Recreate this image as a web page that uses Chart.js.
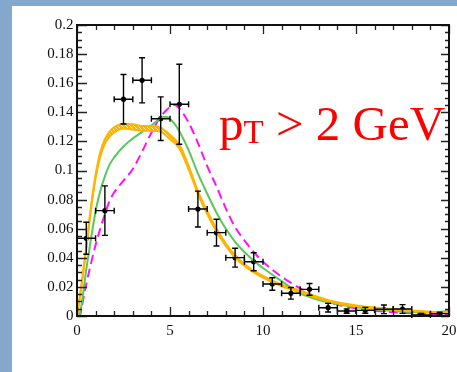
<!DOCTYPE html>
<html>
<head>
<meta charset="utf-8">
<script src="https://cdn.jsdelivr.net/npm/chart.js@4.4.1/dist/chart.umd.min.js"></script>
<style>
  html, body { margin: 0; padding: 0; }
  body { width: 457px; height: 372px; background: #86a7cd; position: relative; overflow: hidden; }
  #panel { position: absolute; left: 12px; top: 6px; right: 0; bottom: 0; background: #ffffff; }
  #c { position: absolute; left: 0; top: 0; }
</style>
</head>
<body>
<div id="panel"></div>
<canvas id="c" width="457" height="372"></canvas>
<script>
// Measured spectrum: bin centres, values, half bin widths and errors
const dataX    = [0.5, 1.5, 2.5, 3.5, 4.5, 5.5, 6.5, 7.5, 8.5, 9.5, 10.5, 11.5, 12.5, 13.5, 14.5, 15.5, 16.5, 17.5, 18.5, 19.5];
const dataY    = [0.0534, 0.0724, 0.149, 0.162, 0.1356, 0.1455, 0.0735, 0.0573, 0.0401, 0.0373, 0.022, 0.0156, 0.0183, 0.0057, 0.0034, 0.0039, 0.0046, 0.0048, 0.0007, 0.0016];
const dataXErr = [0.5, 0.5, 0.5, 0.5, 0.5, 0.5, 0.5, 0.5, 0.5, 0.5, 0.5, 0.5, 0.5, 0.5, 0.5, 0.5, 0.5, 0.5, 0.5, 0.5];
const dataYErr = [0.011, 0.017, 0.017, 0.0155, 0.015, 0.0275, 0.0123, 0.0092, 0.0065, 0.0062, 0.0043, 0.004, 0.004, 0.003, 0.0015, 0.002, 0.003, 0.003, 0.001, 0.001];

// Model band (upper and lower edge)
const bandX    = [0, 0.25, 0.5, 0.75, 1, 1.25, 1.5, 1.75, 2, 2.5, 3, 3.5, 4, 4.5, 5, 5.5, 6, 6.5, 7, 7.5, 8, 8.5, 9, 9.5, 10, 11, 12, 13, 14, 15, 16, 17, 18, 19, 20];
const bandHigh = [0, 0.0228, 0.0478, 0.0752, 0.0972, 0.1125, 0.1215, 0.1268, 0.1298, 0.1322, 0.1318, 0.1306, 0.1306, 0.1295, 0.1245, 0.1178, 0.1032, 0.0860, 0.0720, 0.0600, 0.0498, 0.0418, 0.0357, 0.0311, 0.0276, 0.0216, 0.0175, 0.0130, 0.0094, 0.0073, 0.0058, 0.0047, 0.0037, 0.0030, 0.0024];
const bandLow  = [0, 0.0212, 0.0462, 0.0728, 0.0948, 0.1095, 0.1185, 0.1232, 0.1262, 0.1288, 0.1282, 0.1274, 0.1274, 0.1265, 0.1215, 0.1152, 0.1008, 0.0840, 0.0700, 0.0580, 0.0482, 0.0402, 0.0343, 0.0299, 0.0264, 0.0204, 0.0165, 0.0120, 0.0086, 0.0067, 0.0052, 0.0043, 0.0033, 0.0026, 0.0020];

// Second model (green, solid)
const greenX = [0, 0.12, 0.5, 0.75, 1, 1.25, 1.5, 1.75, 2, 2.5, 3, 3.5, 4, 4.5, 4.75, 5, 5.5, 6, 6.5, 7, 7.5, 8, 8.5, 9, 9.5, 10, 11, 12, 13, 14, 15, 16, 17, 18, 19, 20];
const greenY = [0, 0.0007, 0.032, 0.053, 0.072, 0.086, 0.096, 0.104, 0.109, 0.1165, 0.122, 0.1265, 0.131, 0.136, 0.137, 0.1355, 0.127, 0.114, 0.098, 0.084, 0.071, 0.060, 0.051, 0.044, 0.038, 0.033, 0.024, 0.0155, 0.011, 0.008, 0.006, 0.0045, 0.0035, 0.0028, 0.0024, 0.0035];

// Third model (magenta, dashed)
const magX = [0, 0.15, 0.25, 0.5, 0.75, 1, 1.25, 1.5, 1.75, 2, 2.5, 3, 3.5, 4, 4.5, 5, 5.25, 5.5, 6, 6.5, 7, 7.5, 8, 8.5, 9, 9.5, 10, 11, 12, 13, 14, 15, 16, 17, 18, 19, 20];
const magY = [0, 0, 0.006, 0.022, 0.036, 0.049, 0.060, 0.070, 0.079, 0.085, 0.093, 0.101, 0.113, 0.126, 0.137, 0.1437, 0.145, 0.1427, 0.133, 0.119, 0.103, 0.089, 0.074, 0.061, 0.052, 0.044, 0.0373, 0.027, 0.019, 0.012, 0.0078, 0.0052, 0.0036, 0.0026, 0.0019, 0.0014, 0.0011];

const xTicks = { min: 0, max: 20, step: 5, minorStep: 1 };
const yTicks = { min: 0, max: 0.2, step: 0.02, minorStep: 0.005 };

const pts = (xs, ys) => xs.map((x, i) => ({ x: x, y: ys[i] }));

const SERIF = '"Liberation Serif", "DejaVu Serif", serif';
const ORANGE = '#ffb400';
const GREEN = '#58c858';
const MAGENTA = '#ff10ff';

// cross-hatched fill for the band
function hatchPattern() {
  const t = document.createElement('canvas');
  t.width = 4; t.height = 4;
  const g = t.getContext('2d');
  g.fillStyle = ORANGE;
  g.fillRect(0, 0, 4, 4);
  g.fillStyle = '#ffe9b0';
  g.fillRect(0, 0, 1, 1);
  g.fillRect(2, 2, 1, 1);
  g.fillRect(1, 1, 1, 1);
  g.fillRect(3, 3, 1, 1);
  return g.createPattern(t, 'repeat');
}

const ctx = document.getElementById('c').getContext('2d');

const framePlugin = {
  id: 'frameTicks',
  afterDatasetsDraw(chart) {
    const c = chart.ctx;
    const xs = chart.scales.x, ys = chart.scales.y;
    const a = chart.chartArea;

    // error bars on the measured points
    c.save();
    c.strokeStyle = '#000';
    c.lineWidth = 1.4;
    const cap = 3;
    for (let i = 0; i < dataX.length; i++) {
      const px = xs.getPixelForValue(dataX[i]);
      const py = ys.getPixelForValue(dataY[i]);
      const x0 = xs.getPixelForValue(dataX[i] - dataXErr[i]);
      const x1 = xs.getPixelForValue(dataX[i] + dataXErr[i]);
      const y0 = Math.min(ys.getPixelForValue(Math.max(dataY[i] - dataYErr[i], 0)), a.bottom);
      const y1 = ys.getPixelForValue(dataY[i] + dataYErr[i]);
      c.beginPath();
      c.moveTo(x0, py); c.lineTo(x1, py);
      c.moveTo(x0, py - cap); c.lineTo(x0, py + cap);
      c.moveTo(x1, py - cap); c.lineTo(x1, py + cap);
      c.moveTo(px, y0); c.lineTo(px, y1);
      c.moveTo(px - cap, y1); c.lineTo(px + cap, y1);
      if (dataY[i] - dataYErr[i] > 0) { c.moveTo(px - cap, y0); c.lineTo(px + cap, y0); }
      c.stroke();
    }
    c.restore();

    // inward ticks on all four sides
    c.save();
    c.strokeStyle = '#222';
    c.lineWidth = 1.3;
    c.beginPath();
    const nx = Math.round((xTicks.max - xTicks.min) / xTicks.minorStep);
    for (let i = 0; i <= nx; i++) {
      const v = xTicks.min + i * xTicks.minorStep;
      const major = Math.abs(v / xTicks.step - Math.round(v / xTicks.step)) < 1e-6;
      const p = Math.round(xs.getPixelForValue(v)) + 0.5;
      const len = major ? 9 : 5;
      c.moveTo(p, a.bottom); c.lineTo(p, a.bottom - len);
      c.moveTo(p, a.top); c.lineTo(p, a.top + len);
    }
    const ny = Math.round((yTicks.max - yTicks.min) / yTicks.minorStep);
    for (let i = 0; i <= ny; i++) {
      const v = yTicks.min + i * yTicks.minorStep;
      const major = i % Math.round(yTicks.step / yTicks.minorStep) === 0;
      const p = Math.round(ys.getPixelForValue(v)) + 0.5;
      c.moveTo(a.left, p); c.lineTo(a.left + (major ? 10 : 5), p);
      c.moveTo(a.right, p); c.lineTo(a.right - (major ? 8 : 4), p);
    }
    c.stroke();

    // frame
    c.strokeStyle = '#111';
    c.lineWidth = 2;
    c.strokeRect(a.left, a.top, a.right - a.left, a.bottom - a.top);
    c.restore();
  },
  afterDraw(chart) {
    // cut label "pT > 2 GeV"
    const c = chart.ctx;
    c.save();
    c.fillStyle = '#ff0000';
    c.textBaseline = 'alphabetic';
    c.textAlign = 'left';
    let x = 219;
    c.font = '49px ' + SERIF;
    c.fillText('p', x, 140);
    x += c.measureText('p').width;
    c.font = '33px ' + SERIF;
    c.fillText('T', x, 143);
    x += c.measureText('T').width;
    c.font = '49px ' + SERIF;
    c.fillText(' > 2 GeV', x, 140);
    c.restore();
  }
};

new Chart(ctx, {
  type: 'line',
  data: {
    datasets: [
      {
        data: pts(bandX, bandHigh),
        borderColor: ORANGE, borderWidth: 2, pointRadius: 0,
        cubicInterpolationMode: 'monotone', fill: false
      },
      {
        data: pts(bandX, bandLow),
        borderColor: ORANGE, borderWidth: 2, pointRadius: 0,
        cubicInterpolationMode: 'monotone', fill: '-1',
        backgroundColor: hatchPattern()
      },
      {
        data: pts(greenX, greenY),
        borderColor: GREEN, borderWidth: 2, pointRadius: 0,
        cubicInterpolationMode: 'monotone', fill: false
      },
      {
        data: pts(magX, magY),
        borderColor: MAGENTA, borderWidth: 2, borderDash: [9, 5], pointRadius: 0,
        cubicInterpolationMode: 'monotone', fill: false
      },
      {
        type: 'scatter',
        data: pts(dataX, dataY),
        showLine: false,
        pointRadius: 2.6, pointBackgroundColor: '#000', pointBorderColor: '#000', pointBorderWidth: 0
      }
    ]
  },
  options: {
    responsive: false,
    animation: false,
    layout: { padding: { top: 25, right: 8, left: 0, bottom: 0 } },
    plugins: { legend: { display: false }, tooltip: { enabled: false } },
    scales: {
      x: {
        type: 'linear', min: xTicks.min, max: xTicks.max,
        grid: { display: false, drawTicks: false },
        border: { display: false },
        ticks: { stepSize: xTicks.step, color: '#111', padding: 6, font: { family: SERIF, size: 15 }, maxRotation: 0 },
        afterFit(s) { s.height = 56; s.paddingLeft = 0; s.paddingRight = 0; }
      },
      y: {
        type: 'linear', min: yTicks.min, max: yTicks.max,
        grid: { display: false, drawTicks: false },
        border: { display: false },
        ticks: {
          stepSize: yTicks.step, color: '#111', padding: 3.5, font: { family: SERIF, size: 15 },
          callback: v => String(+v.toFixed(3))
        },
        afterFit(s) { s.width = 77; s.paddingTop = 0; s.paddingBottom = 0; }
      }
    }
  },
  plugins: [framePlugin]
});
</script>
</body>
</html>
